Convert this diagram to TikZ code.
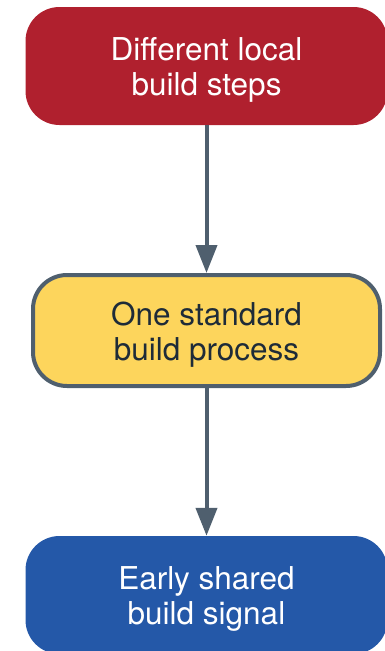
\documentclass[tikz,border=0pt]{standalone}
\usepackage{fontspec}
\setmainfont{TeX Gyre Heros}
\usetikzlibrary{arrows.meta}
\definecolor{boxred}{HTML}{B0202E}
\definecolor{boxyellow}{HTML}{FDD55C}
\definecolor{boxblue}{HTML}{2458A8}
\definecolor{slate}{HTML}{4F5F6E}
\definecolor{darktext}{HTML}{1E2B38}
\begin{document}
\begin{tikzpicture}[x=1pt,y=-1pt,
  stage/.style={rectangle,rounded corners=34pt,inner sep=0pt},
  caption/.style={align=center,inner sep=0pt,yshift=-4pt,
    font=\fontsize{31.5}{35}\selectfont},
  flow/.style={draw=slate,line width=4pt,-{Triangle[width=21pt,length=28pt]}}]
\useasboundingbox (0,0) rectangle (385,651);
\clip (0,0) rectangle (385,651);
\node[stage,fill=boxred,minimum width=362pt,minimum height=118pt] (a) at (206.5,66) {};
\node[caption,text=white] (at) at (a.center) {Different local\\build steps};
\node[stage,fill=boxyellow,draw=slate,line width=4pt,minimum width=347pt,minimum height=111pt] (b) at (206.5,330.5) {};
\node[caption,text=darktext] (bt) at (b.center) {One standard\\build process};
\node[stage,fill=boxblue,minimum width=362pt,minimum height=118pt] (c) at (206.5,595) {};
\node[caption,text=white] (ct) at (c.center) {Early shared\\build signal};
\draw[flow] (a.south) -- (b.north);
\draw[flow] (b.south) -- (c.north);
\end{tikzpicture}
\end{document}
